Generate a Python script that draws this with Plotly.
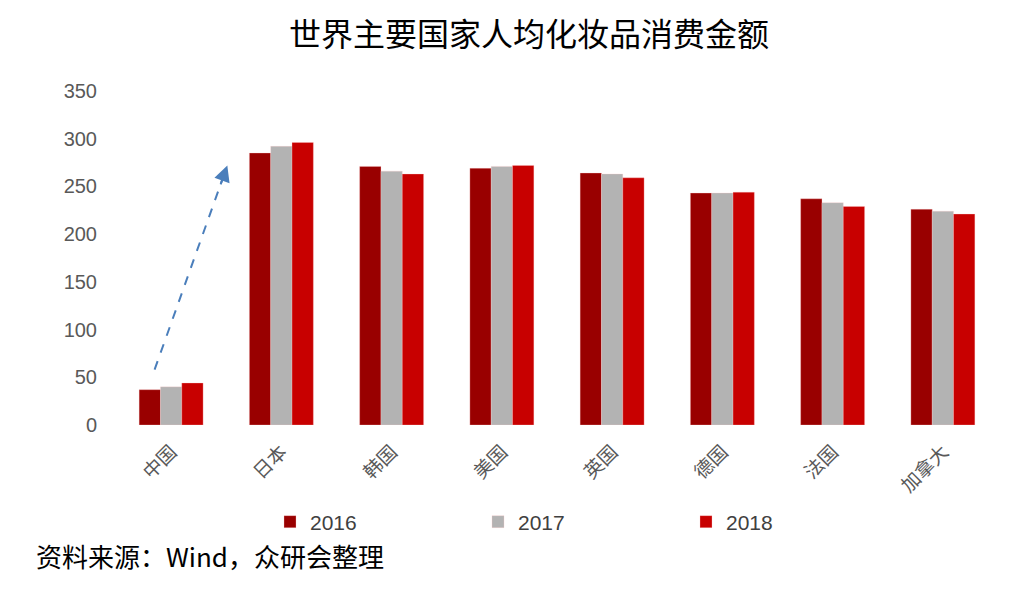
import plotly.graph_objects as go

categories = ["中国", "日本", "韩国", "美国", "英国", "德国", "法国", "加拿大"]
v2016 = [37, 285, 271, 269, 264, 243, 237, 226]
v2017 = [40, 292, 266, 271, 263, 243, 233, 224]
v2018 = [44, 296, 263, 272, 259, 244, 229, 221]
years = ["2016", "2017", "2018"]
colors = ["#990000", "#B3B3B3", "#C80000"]

W, H = 1030, 590
L, R, T, B = 116, 32, 91, 165
pw, ph = W - L - R, H - T - B

fig = go.Figure()
for name, vals, c in zip(years, [v2016, v2017, v2018], colors):
    fig.add_trace(go.Bar(x=categories, y=vals, name=name, marker_color=c,
                         marker_line=dict(color="rgba(255,200,200,0.6)", width=0.5)))

# dashed arrow from China to Japan
x0, y0 = -0.15, 58
x1, y1 = 0.51, 272
fig.add_shape(type="line", xref="x", yref="y", x0=x0, y0=y0, x1=x0 + (x1 - x0) * 0.95,
              y1=y0 + (y1 - y0) * 0.95, line=dict(color="#4A7EBB", width=2, dash="dash"))
fig.add_annotation(x=x1, y=y1, ax=x0 + (x1 - x0) * 0.9, ay=y0 + (y1 - y0) * 0.9,
                   xref="x", yref="y", axref="x", ayref="y", text="", showarrow=True,
                   arrowhead=2, arrowsize=1.6, arrowwidth=2, arrowcolor="#4A7EBB")

fig.add_annotation(text="资料来源：Wind，众研会整理", xref="paper", yref="paper",
                   x=(34 - L) / pw, y=(T + ph - 555) / ph, xanchor="left", yanchor="middle",
                   showarrow=False, font=dict(family="Noto Sans CJK SC", size=26, color="#000000"))

fig.update_layout(
    width=W, height=H,
    margin=dict(l=L, r=R, t=T, b=B),
    paper_bgcolor="white", plot_bgcolor="white",
    barmode="group", bargap=0.42, bargroupgap=0,
    title=dict(text="世界主要国家人均化妆品消费金额", x=(283 + 775) / 2 / W, xref="container", xanchor="center",
               y=1 - 35 / H, yref="container", yanchor="middle",
               font=dict(family="Noto Sans CJK SC", size=32, color="#000000")),
    xaxis=dict(tickangle=-45, tickfont=dict(family="Noto Sans CJK SC", size=19, color="#595959"),
               showline=False, ticks="", range=[-0.5, 7.5], ticklabelstandoff=11),
    yaxis=dict(range=[0, 350], tickvals=[0, 50, 100, 150, 200, 250, 300, 350],
               showgrid=False, zeroline=False, showline=False, ticks="", ticklen=0,
               ticklabelstandoff=18,
               tickfont=dict(family="Liberation Sans, Arial", size=20, color="#595959")),
    legend=dict(orientation="h", xref="paper", yref="paper", x=(270 - L) / pw, xanchor="left",
                y=(T + ph - 522) / ph, yanchor="middle", entrywidth=163, entrywidthmode="pixels",
                font=dict(family="Liberation Sans, Arial", size=21, color="#404040")),
    showlegend=True,
)
fig.write_html("out.html")
